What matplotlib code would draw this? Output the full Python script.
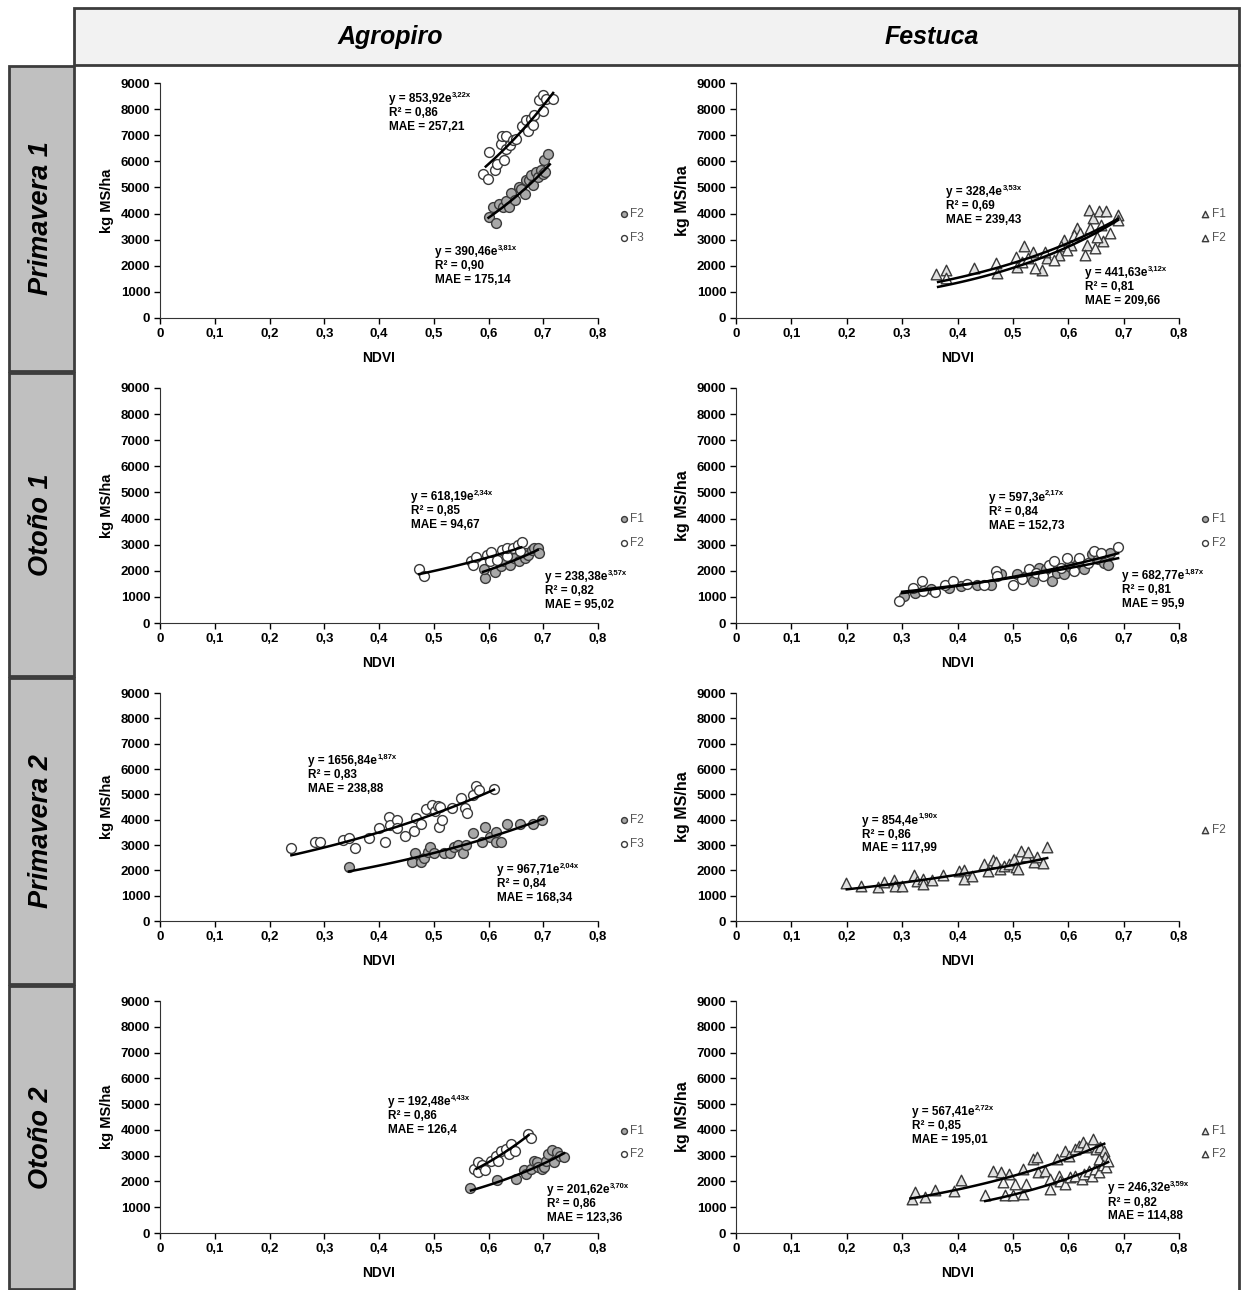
import numpy as np
import matplotlib
matplotlib.use("Agg")
import matplotlib.pyplot as plt
from matplotlib.patches import Rectangle
from matplotlib.lines import Line2D

plt.rcParams['font.family'] = ['Liberation Sans', 'DejaVu Sans']
plt.rcParams['font.weight'] = 'bold'
plt.rcParams['axes.labelweight'] = 'bold'

W, H = 1243, 1290

columnas = ['Agropiro', 'Festuca']
estaciones = ['Primavera 1', 'Otoño 1', 'Primavera 2', 'Otoño 2']
x_ticks = [0, 0.1, 0.2, 0.3, 0.4, 0.5, 0.6, 0.7, 0.8]
x_ticklabels = ['0', '0,1', '0,2', '0,3', '0,4', '0,5', '0,6', '0,7', '0,8']
y_ticks = [0, 1000, 2000, 3000, 4000, 5000, 6000, 7000, 8000, 9000]

# ---- Agropiro, Primavera 1 ----
agr_p1_f2_x = [0.601, 0.614, 0.609, 0.620, 0.627, 0.632, 0.638, 0.642, 0.649, 0.655, 0.660, 0.667,
               0.669, 0.674, 0.677, 0.681, 0.686, 0.690, 0.696, 0.700, 0.702, 0.704, 0.708]
agr_p1_f2_y = [3870, 3650, 4250, 4380, 4250, 4500, 4250, 4790, 4510, 5020, 4950, 4760,
               5270, 5270, 5470, 5080, 5600, 5400, 5660, 5530, 6040, 5600, 6300]
agr_p1_f3_x = [0.590, 0.599, 0.601, 0.612, 0.616, 0.622, 0.624, 0.629, 0.632, 0.632, 0.639, 0.644,
               0.650, 0.661, 0.669, 0.673, 0.678, 0.681, 0.684, 0.693, 0.699, 0.700, 0.705, 0.717]
agr_p1_f3_y = [5530, 5340, 6360, 5660, 5910, 6680, 6960, 6040, 6960, 6490, 6620, 6810,
               6850, 7360, 7570, 7150, 7640, 7380, 7770, 8340, 8530, 7920, 8400, 8370]

# ---- Festuca, Primavera 1 ----
fes_p1_f1_x = [0.361, 0.380, 0.430, 0.472, 0.507, 0.520, 0.536, 0.553, 0.561, 0.583, 0.592, 0.605,
               0.616, 0.634, 0.638, 0.645, 0.656, 0.663, 0.669, 0.689]
fes_p1_f1_y = [1670, 1840, 1930, 1710, 1970, 2740, 2540, 1840, 2290, 2420, 3000, 2800,
               3440, 2800, 4150, 3830, 4090, 2930, 4090, 3960]
fes_p1_f2_x = [0.380, 0.470, 0.505, 0.516, 0.527, 0.540, 0.558, 0.575, 0.587, 0.598, 0.611, 0.621,
               0.631, 0.640, 0.649, 0.652, 0.660, 0.676, 0.689]
fes_p1_f2_y = [1520, 2100, 2350, 2130, 2290, 1900, 2540, 2220, 2740, 2610, 3190, 3250,
               2420, 3440, 2670, 3120, 3570, 3250, 3770]

# ---- Agropiro, Otoño 1 ----
agr_o1_f1_x = [0.593, 0.591, 0.611, 0.622, 0.629, 0.640, 0.647, 0.655, 0.666, 0.669, 0.673, 0.680,
               0.684, 0.691, 0.693]
agr_o1_f1_y = [1730, 2050, 1960, 2170, 2360, 2240, 2490, 2360, 2490, 2680, 2610, 2800,
               2860, 2860, 2680]
agr_o1_f2_x = [0.473, 0.482, 0.568, 0.571, 0.577, 0.597, 0.602, 0.605, 0.615, 0.624, 0.633, 0.633,
               0.644, 0.653, 0.658, 0.662]
agr_o1_f2_y = [2050, 1800, 2390, 2240, 2510, 2610, 2360, 2710, 2420, 2800, 2550, 2860,
               2860, 2990, 2740, 3090]

# ---- Festuca, Otoño 1 ----
fes_o1_f1_x = [0.304, 0.324, 0.353, 0.385, 0.407, 0.436, 0.461, 0.479, 0.508, 0.523, 0.536, 0.548,
               0.559, 0.570, 0.579, 0.592, 0.601, 0.617, 0.628, 0.642, 0.653, 0.664, 0.671, 0.676]
fes_o1_f1_y = [1050, 1150, 1310, 1350, 1410, 1450, 1470, 1860, 1860, 1790, 1600, 2120,
               2050, 1600, 1920, 1860, 2180, 2310, 2050, 2630, 2440, 2310, 2240, 2690]
fes_o1_f2_x = [0.295, 0.320, 0.336, 0.338, 0.360, 0.378, 0.392, 0.418, 0.447, 0.469, 0.472, 0.501,
               0.516, 0.530, 0.541, 0.555, 0.566, 0.575, 0.587, 0.597, 0.610, 0.620, 0.635, 0.646,
               0.660, 0.689]
fes_o1_f2_y = [830, 1350, 1600, 1220, 1180, 1470, 1600, 1510, 1450, 2000, 1790, 1470,
               1670, 2050, 1920, 1790, 2240, 2370, 2120, 2500, 1990, 2500, 2310, 2760,
               2690, 2920]

# ---- Agropiro, Primavera 2 ----
agr_p2_f2_x = [0.345, 0.461, 0.465, 0.476, 0.483, 0.489, 0.494, 0.501, 0.519, 0.530, 0.537, 0.544,
               0.553, 0.559, 0.571, 0.589, 0.594, 0.602, 0.613, 0.613, 0.623, 0.634, 0.657, 0.681,
               0.698]
agr_p2_f2_y = [2120, 2340, 2670, 2340, 2470, 2740, 2910, 2670, 2700, 2700, 2940, 3000,
               2700, 3000, 3490, 3100, 3700, 3330, 3530, 3100, 3100, 3840, 3840, 3840,
               4000]
agr_p2_f3_x = [0.240, 0.283, 0.292, 0.335, 0.345, 0.357, 0.382, 0.400, 0.411, 0.419, 0.421, 0.432,
               0.432, 0.447, 0.464, 0.468, 0.476, 0.486, 0.497, 0.503, 0.508, 0.510, 0.512, 0.515,
               0.533, 0.549, 0.557, 0.561, 0.572, 0.577, 0.582, 0.610]
agr_p2_f3_y = [2900, 3100, 3100, 3200, 3270, 2900, 3270, 3660, 3100, 4100, 3800, 3990,
               3660, 3360, 3570, 4060, 3840, 4420, 4590, 4330, 4550, 3730, 4500, 3990,
               4460, 4850, 4460, 4260, 4990, 5320, 5190, 5210]

# ---- Festuca, Primavera 2 ----
fes_p2_f2_x = [0.198, 0.225, 0.257, 0.268, 0.285, 0.288, 0.300, 0.321, 0.326, 0.338, 0.338, 0.354,
               0.374, 0.403, 0.412, 0.412, 0.426, 0.448, 0.455, 0.464, 0.469, 0.476, 0.484, 0.493,
               0.502, 0.505, 0.509, 0.515, 0.523, 0.527, 0.538, 0.543, 0.554, 0.561]
fes_p2_f2_y = [1500, 1400, 1340, 1540, 1630, 1370, 1370, 1800, 1570, 1670, 1470, 1600,
               1800, 1990, 2020, 1670, 1760, 2260, 1990, 2420, 2330, 2060, 2190, 2260,
               2450, 2150, 2060, 2780, 2550, 2720, 2330, 2520, 2280, 2910]

# ---- Agropiro, Otoño 2 ----
agr_o2_f1_x = [0.566, 0.616, 0.650, 0.664, 0.669, 0.677, 0.684, 0.688, 0.691, 0.698, 0.702, 0.705,
               0.709, 0.716, 0.719, 0.726, 0.730, 0.738]
agr_o2_f1_y = [1750, 2040, 2100, 2460, 2280, 2500, 2810, 2750, 2550, 2500, 2560, 2810,
               3070, 3220, 2750, 3130, 3000, 2950]
agr_o2_f2_x = [0.573, 0.580, 0.580, 0.589, 0.594, 0.605, 0.613, 0.617, 0.622, 0.632, 0.637, 0.641,
               0.648, 0.673, 0.677]
agr_o2_f2_y = [2500, 2750, 2370, 2630, 2460, 2810, 3000, 2810, 3200, 3260, 3070, 3460,
               3180, 3850, 3690]

# ---- Festuca, Otoño 2 ----
fes_o2_f1_x = [0.317, 0.324, 0.342, 0.360, 0.394, 0.406, 0.464, 0.478, 0.493, 0.518, 0.536, 0.543,
               0.545, 0.558, 0.579, 0.594, 0.601, 0.612, 0.619, 0.626, 0.632, 0.644, 0.651, 0.658,
               0.664, 0.666]
fes_o2_f1_y = [1330, 1590, 1390, 1680, 1620, 2040, 2420, 2360, 2290, 2490, 2870, 2940,
               2360, 2420, 2870, 3200, 3000, 3260, 3390, 3520, 3330, 3650, 3260, 3330,
               3200, 2940]
fes_o2_f2_x = [0.450, 0.482, 0.486, 0.500, 0.504, 0.518, 0.524, 0.567, 0.567, 0.583, 0.586, 0.594,
               0.604, 0.613, 0.624, 0.629, 0.637, 0.642, 0.649, 0.655, 0.655, 0.662, 0.669, 0.671]
fes_o2_f2_y = [1460, 1970, 1490, 1490, 1910, 1520, 1910, 1710, 2100, 2230, 2010, 1910,
               2170, 2230, 2100, 2290, 2420, 2230, 2490, 2360, 2870, 2620, 2550, 2810]

# exponential trend lines: (a, b, r2, mae, x_from, x_to)
fits = {
    ('Agropiro', 0): [(390.46, 3.81, 0.90, 175.14, 0.600, 0.712), (853.92, 3.22, 0.86, 257.21, 0.595, 0.718)],
    ('Festuca', 0): [(328.4, 3.53, 0.69, 239.43, 0.365, 0.690), (441.63, 3.12, 0.81, 209.66, 0.365, 0.690)],
    ('Agropiro', 1): [(238.38, 3.57, 0.82, 95.02, 0.590, 0.690), (618.19, 2.34, 0.85, 94.67, 0.473, 0.660)],
    ('Festuca', 1): [(597.3, 2.17, 0.84, 152.73, 0.300, 0.690), (682.77, 1.87, 0.81, 95.9, 0.300, 0.690)],
    ('Agropiro', 2): [(967.71, 2.04, 0.84, 168.34, 0.345, 0.700), (1656.84, 1.87, 0.83, 238.88, 0.240, 0.610)],
    ('Festuca', 2): [(854.4, 1.90, 0.86, 117.99, 0.200, 0.562)],
    ('Agropiro', 3): [(201.62, 3.70, 0.86, 123.36, 0.568, 0.738), (192.48, 4.43, 0.86, 126.4, 0.578, 0.673)],
    ('Festuca', 3): [(567.41, 2.72, 0.85, 195.01, 0.315, 0.665), (246.32, 3.59, 0.82, 114.88, 0.450, 0.672)],
}
# top-left corner of each equation block (data coords)
eq_pos = {
    ('Agropiro', 0): [(0.503, 2750), (0.419, 8620)],
    ('Festuca', 0): [(0.380, 5050), (0.631, 1950)],
    ('Agropiro', 1): [(0.704, 1980), (0.459, 5060)],
    ('Festuca', 1): [(0.456, 5030), (0.697, 2040)],
    ('Agropiro', 2): [(0.616, 2260), (0.270, 6550)],
    ('Festuca', 2): [(0.227, 4200)],
    ('Agropiro', 3): [(0.707, 1900), (0.417, 5300)],
    ('Festuca', 3): [(0.317, 4920), (0.671, 1960)],
}

GRIS = dict(marker='o', facecolor='#a8a8a8', edgecolor='#3a3a3a')
BLANCO = dict(marker='o', facecolor='white', edgecolor='#3a3a3a')
TRI1 = dict(marker='^', facecolor='#e0e0e0', edgecolor='#3a3a3a')
TRI2 = dict(marker='^', facecolor='#f2f2f2', edgecolor='#3a3a3a')

series = {
    ('Agropiro', 0): [('F2', agr_p1_f2_x, agr_p1_f2_y, GRIS), ('F3', agr_p1_f3_x, agr_p1_f3_y, BLANCO)],
    ('Festuca', 0): [('F1', fes_p1_f1_x, fes_p1_f1_y, TRI1), ('F2', fes_p1_f2_x, fes_p1_f2_y, TRI2)],
    ('Agropiro', 1): [('F1', agr_o1_f1_x, agr_o1_f1_y, GRIS), ('F2', agr_o1_f2_x, agr_o1_f2_y, BLANCO)],
    ('Festuca', 1): [('F1', fes_o1_f1_x, fes_o1_f1_y, GRIS), ('F2', fes_o1_f2_x, fes_o1_f2_y, BLANCO)],
    ('Agropiro', 2): [('F2', agr_p2_f2_x, agr_p2_f2_y, GRIS), ('F3', agr_p2_f3_x, agr_p2_f3_y, BLANCO)],
    ('Festuca', 2): [('F2', fes_p2_f2_x, fes_p2_f2_y, TRI1)],
    ('Agropiro', 3): [('F1', agr_o2_f1_x, agr_o2_f1_y, GRIS), ('F2', agr_o2_f2_x, agr_o2_f2_y, BLANCO)],
    ('Festuca', 3): [('F1', fes_o2_f1_x, fes_o2_f1_y, TRI1), ('F2', fes_o2_f2_x, fes_o2_f2_y, TRI2)],
}

# panel extents in pixels: columns (left, right), rows (top, bottom)
col_px = {'Agropiro': (160, 598), 'Festuca': (736, 1179)}
row_px = [(83, 318), (388, 623), (693, 921), (1001, 1233)]
row_box = [(65, 372), (372, 677), (677, 985), (985, 1290)]


def fx(px):
    return px / W


def fy(py):
    return 1 - py / H


fig = plt.figure(figsize=(W / 100, H / 100), dpi=100)

# table frame: header band and grey season boxes
fig.add_artist(Rectangle((fx(74), fy(65)), fx(1239) - fx(74), fy(8) - fy(65), transform=fig.transFigure,
                         facecolor='#f2f2f2', edgecolor='#3c3c3c', linewidth=2))
fig.text(fx(390), fy(37), 'Agropiro', ha='center', va='center', fontsize=18, style='italic')
fig.text(fx(932), fy(37), 'Festuca', ha='center', va='center', fontsize=18, style='italic')
fig.add_artist(Line2D([fx(1239), fx(1239)], [fy(65), 0], transform=fig.transFigure, color='#3c3c3c', lw=2))
for nombre, (y0, y1) in zip(estaciones, row_box):
    fig.add_artist(Rectangle((fx(9), fy(y1 - 1)), fx(74) - fx(9), fy(y0 + 1) - fy(y1 - 1),
                             transform=fig.transFigure, facecolor='#c0c0c0', edgecolor='#3c3c3c', linewidth=2))
    fig.text(fx(41), fy((y0 + y1) / 2), nombre, rotation=90, ha='center', va='center',
             fontsize=19.5, style='italic')

for ci, col in enumerate(columnas):
    for ri in range(4):
        l, r = col_px[col]
        t, b = row_px[ri]
        ax = fig.add_axes([fx(l), fy(b), fx(r) - fx(l), fy(t) - fy(b)])
        for lab, xs, ys, st in series[(col, ri)]:
            ax.scatter(xs, ys, s=50 if st['marker'] == 'o' else 58, marker=st['marker'],
                       facecolor=st['facecolor'], edgecolor=st['edgecolor'], linewidths=1.0,
                       label=lab, zorder=3)
        for (a, bexp, r2, mae, x0, x1), (tx, ty) in zip(fits[(col, ri)], eq_pos[(col, ri)]):
            xx = np.linspace(x0, x1, 60)
            ax.plot(xx, a * np.exp(bexp * xx), color='black', lw=1.8, zorder=4)
            t1 = ax.text(tx, ty, 'y = %se' % ('%g' % a).replace('.', ','), fontsize=8.5,
                         ha='left', va='top', zorder=5)
            ax.annotate(('%.2fx' % bexp).replace('.', ','), xy=(1, 1), xycoords=t1,
                        xytext=(0.3, 1), textcoords='offset points', fontsize=5.5,
                        ha='left', va='top')
            ax.annotate('R² = %s\nMAE = %s' % (('%.2f' % r2).replace('.', ','),
                                               ('%g' % mae).replace('.', ',')),
                        xy=(0, 0), xycoords=t1, xytext=(0, -1.5), textcoords='offset points',
                        fontsize=8.5, ha='left', va='top', linespacing=1.2)
        ax.set_xlim(0, 0.8)
        ax.set_ylim(0, 9000)
        ax.set_xticks(x_ticks)
        ax.set_xticklabels(x_ticklabels)
        ax.set_yticks(y_ticks)
        ax.tick_params(labelsize=9.5, length=4, width=1, direction='out', pad=3)
        ax.spines['top'].set_visible(False)
        ax.spines['right'].set_visible(False)
        ax.spines['left'].set_color('#333333')
        ax.spines['bottom'].set_color('#333333')
        ax.set_xlabel('NDVI', fontsize=10, labelpad=8, fontweight='bold')
        ax.set_ylabel('kg MS/ha', fontsize=10.5 if col == 'Agropiro' else 11.5, labelpad=5,
                      fontweight='bold')
        n = len(series[(col, ri)])
        ax.legend(loc='center left', bbox_to_anchor=(1.035, 0.39 if n == 2 else 0.4), frameon=False,
                  prop={'weight': 'normal', 'size': 8.5}, labelcolor='#555555', markerscale=0.6,
                  handletextpad=0.05, handlelength=1.0, labelspacing=1.0, borderaxespad=0)

fig.savefig('out.png', dpi=100)
